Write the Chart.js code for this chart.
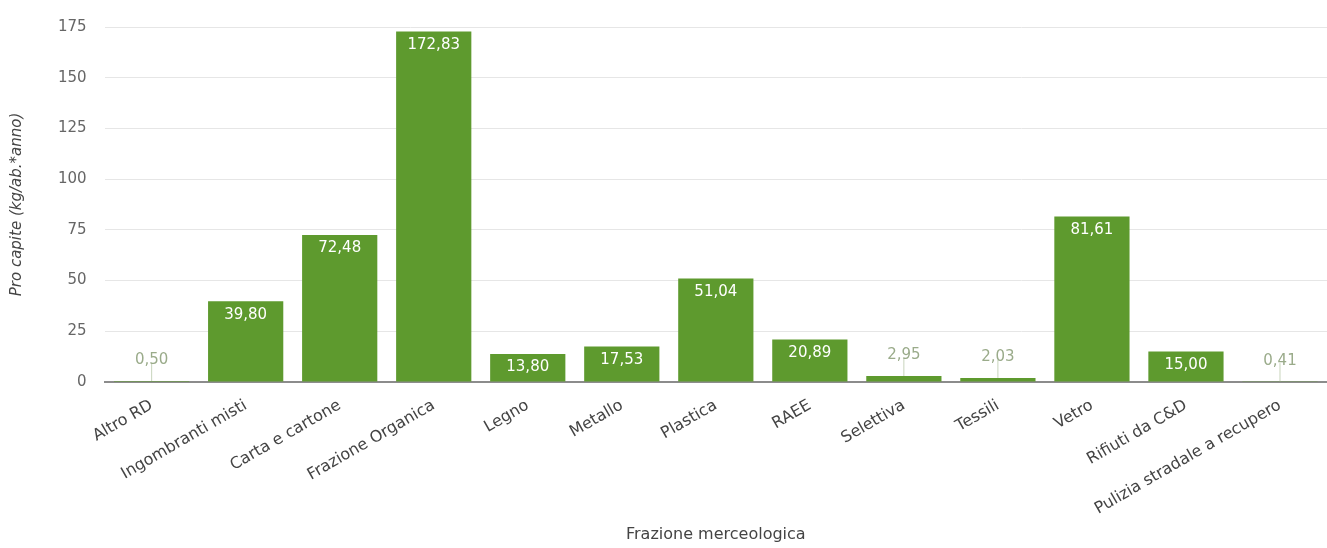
<!DOCTYPE html>
<html>
<head>
<meta charset="utf-8">
<script src="https://cdn.jsdelivr.net/npm/chart.js@4.4.0/dist/chart.umd.min.js"></script>
<style>
  html, body { margin: 0; padding: 0; background: #fff; }
  #wrap { width: 1327px; height: 548px; }
</style>
</head>
<body>
<div id="wrap"><canvas id="frazChart"></canvas></div>
<script>
var categories = ["Altro RD", "Ingombranti misti", "Carta e cartone", "Frazione Organica", "Legno", "Metallo", "Plastica", "RAEE", "Selettiva", "Tessili", "Vetro", "Rifiuti da C&D", "Pulizia stradale a recupero"];
var proCapite = [0.50, 39.80, 72.48, 172.83, 13.80, 17.53, 51.04, 20.89, 2.95, 2.03, 81.61, 15.00, 0.41];
var yTicks = [0, 25, 50, 75, 100, 125, 150, 175];

var fontFam = "'DejaVu Sans', sans-serif";

function fmt(v) {
  return v.toFixed(2).replace(".", ",");
}

// etichette sulle barre: dentro se c'e' spazio, sopra con lineetta se no
var valueLabels = {
  id: 'valueLabels',
  afterDatasetsDraw: function(chart) {
    var ctx = chart.ctx;
    var meta = chart.getDatasetMeta(0);
    ctx.save();
    ctx.font = "15px " + fontFam;
    ctx.textAlign = "center";
    meta.data.forEach(function(bar, i) {
      var v = proCapite[i];
      var h = bar.base - bar.y;
      if (h > 18) {
        ctx.fillStyle = "#ffffff";
        ctx.textBaseline = "top";
        ctx.fillText(fmt(v), bar.x, bar.y + 6);
      } else {
        ctx.strokeStyle = "#c8d4bc";
        ctx.lineWidth = 1;
        ctx.beginPath();
        ctx.moveTo(bar.x, bar.y);
        ctx.lineTo(bar.x, bar.y - 18);
        ctx.stroke();
        ctx.fillStyle = "#9aab8a";
        ctx.textBaseline = "bottom";
        ctx.fillText(fmt(v), bar.x, bar.y - 13);
      }
    });
    ctx.restore();
  }
};

var ctx = document.getElementById('frazChart').getContext('2d');

var myChart = new Chart(ctx, {
  type: 'bar',
  data: {
    labels: categories,
    datasets: [{
      label: "Pro capite",
      data: proCapite,
      backgroundColor: "#5e9a2e",
      borderWidth: 0,
      barPercentage: 0.8,
      categoryPercentage: 1.0
    }]
  },
  options: {
    responsive: true,
    maintainAspectRatio: false,
    animation: false,
    layout: { padding: { top: 13, right: 0, left: 4, bottom: 4 } },
    plugins: {
      legend: { display: false },
      tooltip: { enabled: false }
    },
    scales: {
      x: {
        grid: { display: false, drawTicks: false },
        border: { color: "#8c8c8c", width: 2 },
        afterFit: function(axis) {
          axis.height = 162;
        },
        ticks: {
          color: "#444",
          font: { size: 16, family: fontFam },
          minRotation: 30,
          maxRotation: 30,
          padding: 14,
          autoSkip: false
        },
        title: {
          display: true,
          text: "Frazione merceologica",
          color: "#444",
          font: { size: 16, family: fontFam },
          padding: { top: 4, bottom: 0 }
        }
      },
      y: {
        min: 0,
        max: 175,
        afterBuildTicks: function(axis) {
          axis.ticks = yTicks.map(function(t) { return { value: t }; });
        },
        grid: { color: "#e6e6e6", drawTicks: false },
        border: { display: false },
        ticks: {
          color: "#666",
          font: { size: 15, family: fontFam },
          padding: 18
        },
        title: {
          display: true,
          text: "Pro capite (kg/ab.*anno)",
          color: "#444",
          font: { size: 15, style: "italic", family: fontFam },
          padding: { bottom: 14 }
        }
      }
    }
  },
  plugins: [valueLabels]
});
</script>
</body>
</html>
